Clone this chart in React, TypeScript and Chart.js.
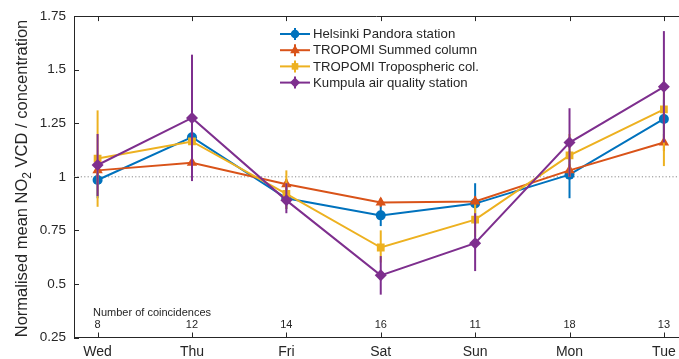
import React, { useEffect, useRef } from "react";
import { Chart, registerables } from "chart.js";
Chart.register(...registerables);

const days = ["Wed", "Thu", "Fri", "Sat", "Sun", "Mon", "Tue"];
const coincidences = [8, 12, 14, 16, 11, 18, 13];
const yTickValues = [0.25, 0.5, 0.75, 1, 1.25, 1.5, 1.75];

const pandora = [0.985, 1.185, 0.9, 0.82, 0.875, 1.01, 1.27];
const pandoraLow = [0.9, 1.1, 0.85, 0.77, 0.78, 0.9, 1.18];
const pandoraHigh = [1.07, 1.26, 0.95, 0.87, 0.97, 1.12, 1.36];

const tropomiSum = [1.03, 1.065, 0.965, 0.88, 0.885, 1.03, 1.16];
const tropomiSumLow = [1.0, 1.03, 0.94, 0.86, 0.86, 1.0, 1.12];
const tropomiSumHigh = [1.06, 1.1, 0.99, 0.9, 0.91, 1.06, 1.2];

const tropomiTrop = [1.085, 1.165, 0.92, 0.67, 0.8, 1.1, 1.315];
const tropomiTropLow = [0.86, 1.05, 0.85, 0.6, 0.72, 1.0, 1.05];
const tropomiTropHigh = [1.31, 1.28, 1.03, 0.75, 0.87, 1.2, 1.45];

const kumpula = [1.055, 1.275, 0.89, 0.54, 0.69, 1.16, 1.42];
const kumpulaLow = [0.91, 0.98, 0.83, 0.45, 0.56, 1.0, 1.16];
const kumpulaHigh = [1.2, 1.57, 0.97, 0.63, 0.83, 1.32, 1.68];

const seriesNames = [
  "Helsinki Pandora station",
  "TROPOMI Summed column",
  "TROPOMI Tropospheric col.",
  "Kumpula air quality station",
];
const colors = ["#0072BD", "#D95319", "#EDB120", "#7E2F8E"];
const styles = ["circle", "triangle", "rect", "rectRot"];
const radii = [5, 6, 5.5, 6];

const FONT = "'Liberation Sans', Arial, Helvetica, sans-serif";
const INK = "#262626";

function drawMarker(ctx: CanvasRenderingContext2D, style: string, x: number, y: number, r: number, color: string) {
  ctx.save();
  ctx.fillStyle = color;
  ctx.beginPath();
  if (style === "circle") {
    ctx.arc(x, y, r, 0, Math.PI * 2);
  } else if (style === "triangle") {
    ctx.moveTo(x, y - r);
    ctx.lineTo(x + r * 0.95, y + r * 0.6);
    ctx.lineTo(x - r * 0.95, y + r * 0.6);
  } else if (style === "rect") {
    const s = r * Math.SQRT1_2;
    ctx.rect(x - s, y - s, 2 * s, 2 * s);
  } else {
    ctx.moveTo(x, y - r);
    ctx.lineTo(x + r, y);
    ctx.lineTo(x, y + r);
    ctx.lineTo(x - r, y);
  }
  ctx.closePath();
  ctx.fill();
  ctx.restore();
}

const lows = [pandoraLow, tropomiSumLow, tropomiTropLow, kumpulaLow];
const highs = [pandoraHigh, tropomiSumHigh, tropomiTropHigh, kumpulaHigh];

const extrasPlugin = {
  id: "extras",
  beforeDatasetsDraw(chart: any) {
    const { ctx, chartArea, scales } = chart;
    const y1 = scales.y.getPixelForValue(1);
    ctx.save();
    ctx.strokeStyle = "#8a8a8a";
    ctx.lineWidth = 1;
    ctx.setLineDash([1.2, 2.2]);
    ctx.beginPath();
    ctx.moveTo(chartArea.left, y1);
    ctx.lineTo(chartArea.right, y1);
    ctx.stroke();
    ctx.restore();
  },
  afterDatasetDraw(chart: any, args: any) {
    const i = args.index;
    const { ctx, scales } = chart;
    ctx.save();
    ctx.strokeStyle = colors[i];
    ctx.lineWidth = 2;
    for (let k = 0; k < days.length; k++) {
      const x = scales.x.getPixelForValue(k + 1);
      ctx.beginPath();
      ctx.moveTo(x, scales.y.getPixelForValue(lows[i][k]));
      ctx.lineTo(x, scales.y.getPixelForValue(highs[i][k]));
      ctx.stroke();
    }
    ctx.restore();
  },
  afterDraw(chart: any) {
    const { ctx, chartArea, scales } = chart;
    ctx.save();
    // top box line
    ctx.strokeStyle = INK;
    ctx.lineWidth = 1;
    const topY = Math.round(chartArea.top) + 0.5;
    ctx.beginPath();
    ctx.moveTo(chartArea.left, topY);
    ctx.lineTo(chartArea.right, topY);
    ctx.stroke();
    // inner ticks
    for (const v of yTickValues) {
      const y = Math.round(scales.y.getPixelForValue(v)) + 0.5;
      ctx.beginPath();
      ctx.moveTo(chartArea.left, y);
      ctx.lineTo(chartArea.left + 5, y);
      ctx.stroke();
    }
    for (let k = 0; k < days.length; k++) {
      const x = Math.round(scales.x.getPixelForValue(k + 1)) + 0.5;
      ctx.beginPath();
      ctx.moveTo(x, chartArea.bottom);
      ctx.lineTo(x, chartArea.bottom - 5);
      ctx.moveTo(x, chartArea.top);
      ctx.lineTo(x, chartArea.top + 5);
      ctx.stroke();
    }
    // x tick labels
    ctx.fillStyle = INK;
    ctx.font = `14px ${FONT}`;
    ctx.textAlign = "center";
    ctx.textBaseline = "middle";
    for (let k = 0; k < days.length; k++) {
      const x = scales.x.getPixelForValue(k + 1);
      ctx.fillText(days[k], x, 352);
    }
    // coincidences
    ctx.font = `11px ${FONT}`;
    ctx.textAlign = "left";
    ctx.fillText("Number of coincidences", 93, 312.5);
    ctx.textAlign = "center";
    for (let k = 0; k < days.length; k++) {
      const x = scales.x.getPixelForValue(k + 1);
      ctx.fillText(String(coincidences[k]), x, 324.5);
    }
    // legend
    ctx.font = `13.2px ${FONT}`;
    ctx.textAlign = "left";
    for (let i = 0; i < seriesNames.length; i++) {
      const y = 34 + i * 16.2;
      ctx.strokeStyle = colors[i];
      ctx.lineWidth = 2;
      ctx.beginPath();
      ctx.moveTo(280, y);
      ctx.lineTo(310, y);
      ctx.stroke();
      ctx.beginPath();
      ctx.moveTo(295, y - 6);
      ctx.lineTo(295, y + 6);
      ctx.stroke();
      drawMarker(ctx, styles[i], 295, y, radii[i] * 0.85, colors[i]);
      ctx.fillStyle = INK;
      ctx.fillText(seriesNames[i], 313, y + 0.5);
    }
    // y-axis title with subscript
    ctx.translate(22, 178.5);
    ctx.rotate(-Math.PI / 2);
    ctx.fillStyle = INK;
    const big = `16.5px ${FONT}`;
    const small = `12px ${FONT}`;
    const p1 = "Normalised mean NO";
    const p2 = "2";
    const p3 = " VCD / concentration";
    ctx.font = big;
    const w1 = ctx.measureText(p1).width;
    const w3 = ctx.measureText(p3).width;
    ctx.font = small;
    const w2 = ctx.measureText(p2).width;
    const total = w1 + w2 + w3;
    let x0 = -total / 2;
    ctx.textAlign = "left";
    ctx.textBaseline = "middle";
    ctx.font = big;
    ctx.fillText(p1, x0, 0);
    x0 += w1;
    ctx.font = small;
    ctx.fillText(p2, x0, 5.5);
    x0 += w2;
    ctx.font = big;
    ctx.fillText(p3, x0, 0);
    ctx.restore();
  },
};

export default function App() {
  const ref = useRef<HTMLCanvasElement>(null);
  useEffect(() => {
    document.body.style.margin = "0";
    const mk = (data: number[], i: number) => ({
      label: seriesNames[i],
      data: data.map((v, k) => ({ x: k + 1, y: v })),
      borderColor: colors[i],
      backgroundColor: colors[i],
      borderWidth: 2,
      pointStyle: styles[i],
      pointRadius: radii[i],
      pointBorderWidth: 0,
      order: 4 - i,
      tension: 0,
    });
    const chart = new Chart(ref.current!, {
      type: "line",
      data: {
        datasets: [mk(pandora, 0), mk(tropomiSum, 1), mk(tropomiTrop, 2), mk(kumpula, 3)],
      },
      options: {
        animation: false,
        responsive: false,
        layout: { autoPadding: false, padding: { top: 16, right: 0, left: 0, bottom: 0 } },
        plugins: { legend: { display: false }, tooltip: { enabled: false } },
        scales: {
          x: {
            type: "linear",
            min: 0.75,
            max: 7.16,
            grid: { display: false, drawTicks: false },
            border: { display: true, color: INK, width: 1 },
            afterBuildTicks: (s: any) => {
              s.ticks = days.map((_, k) => ({ value: k + 1 }));
            },
            afterFit: (s: any) => {
              s.height = 21.5;
            },
            ticks: { display: false },
          },
          y: {
            min: 0.25,
            max: 1.75,
            grid: { display: false, drawTicks: false },
            border: { display: true, color: INK, width: 1 },
            afterBuildTicks: (s: any) => {
              s.ticks = yTickValues.map((v) => ({ value: v }));
            },
            afterFit: (s: any) => {
              s.width = 74;
            },
            ticks: {
              padding: 8,
              color: INK,
              font: { family: FONT, size: 13.5 },
              callback: (v: any) => String(v),
            },
          },
        },
      },
      plugins: [extrasPlugin],
    } as any);
    return () => chart.destroy();
  }, []);
  return (
    <div style={{ position: "fixed", left: 0, top: 0, width: 679, height: 359 }}>
      <canvas ref={ref} width={679} height={359} />
    </div>
  );
}
